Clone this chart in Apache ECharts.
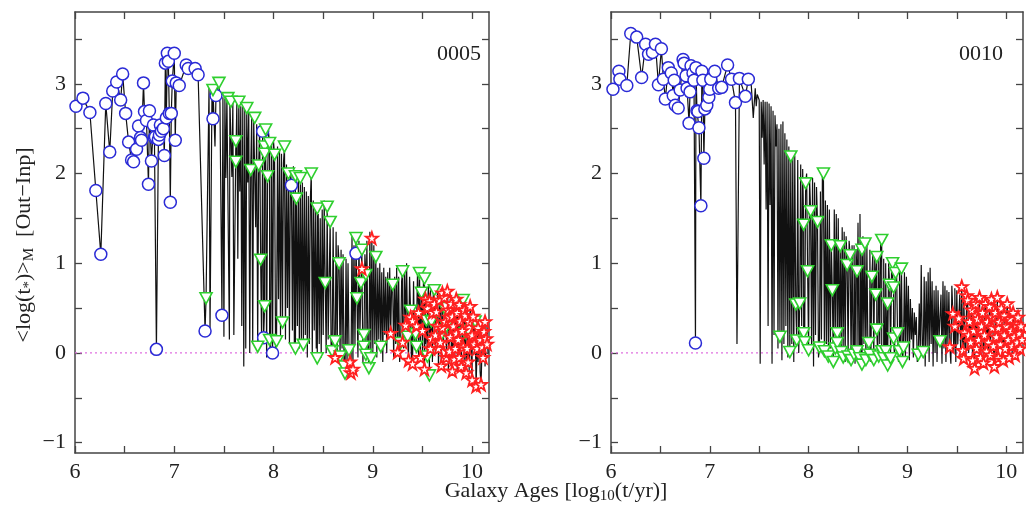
<!DOCTYPE html>
<html><head><meta charset="utf-8">
<script src="https://cdn.jsdelivr.net/npm/echarts@6/dist/echarts.min.js"></script>
<style>html,body{margin:0;padding:0;background:#fff}#c{width:1026px;height:507px}</style>
</head><body><div id="c"></div>
<script>
const panelNames = ['0005', '0010'];
const xTicks = [6, 6.5, 7, 7.5, 8, 8.5, 9, 9.5, 10];
const xTickLabels = [6, 7, 8, 9, 10];
const yTicks = [-1, -0.5, 0, 0.5, 1, 1.5, 2, 2.5, 3, 3.5];
const yTickLabels = [-1, 0, 1, 2, 3];
const xRange = [6, 10.17];
const yRange = [-1.115, 3.8];
const zeroLine = [[6, 0], [10.17, 0]];

// ---- panel 0005 ----
const leftBlue = [[6.01,2.75],[6.08,2.84],[6.15,2.68],[6.21,1.81],[6.26,1.10],[6.31,2.78],[6.35,2.24],[6.38,2.92],[6.42,3.02],[6.46,2.82],[6.48,3.11],[6.51,2.67],[6.54,2.35],[6.57,2.15],[6.59,2.13],[6.62,2.27],[6.64,2.53],[6.66,2.40],[6.67,2.37],[6.69,3.01],[6.70,2.69],[6.72,2.59],[6.74,1.88],[6.75,2.70],[6.77,2.14],[6.79,2.54],[6.80,2.40],[6.81,2.41],[6.82,0.04],[6.84,2.38],[6.85,2.43],[6.86,2.54],[6.87,2.47],[6.89,2.50],[6.90,2.20],[6.91,3.23],[6.92,2.62],[6.93,3.34],[6.94,3.25],[6.95,2.67],[6.96,1.68],[6.97,2.67],[6.98,3.03],[7.00,3.34],[7.01,2.37],[7.02,3.01],[7.05,2.98],[7.12,3.21],[7.14,3.17],[7.21,3.17],[7.24,3.10],[7.31,0.245],[7.39,2.61],[7.42,2.87],[7.48,0.42],[7.89,2.47],[7.90,0.17],[7.99,0.00],[8.18,1.87],[8.83,1.11]];
const leftGreen = [[7.32,0.61],[7.39,2.93],[7.45,3.01],[7.54,2.84],[7.57,2.80],[7.62,2.36],[7.62,2.13],[7.65,2.80],[7.73,2.73],[7.77,2.04],[7.81,2.62],[7.84,0.07],[7.85,2.09],[7.87,1.04],[7.91,0.52],[7.91,2.30],[7.91,2.22],[7.92,2.49],[7.94,1.97],[7.96,2.34],[7.96,0.145],[8.01,2.21],[8.03,0.13],[8.09,0.34],[8.11,2.30],[8.15,2.00],[8.22,1.97],[8.22,0.05],[8.23,1.72],[8.27,1.95],[8.30,0.09],[8.38,2.00],[8.44,1.61],[8.44,-0.06],[8.52,0.78],[8.54,1.63],[8.57,1.46],[8.59,0.02],[8.62,0.13],[8.66,1.00],[8.67,-0.04],[8.71,-0.15],[8.72,-0.23],[8.76,0.03],[8.83,1.28],[8.84,0.61],[8.88,0.78],[8.89,1.15],[8.91,0.20],[8.91,0.07],[8.93,0.87],[8.93,-0.02],[8.96,-0.17],[8.98,-0.06],[9.03,1.07],[9.08,0.07],[9.20,0.76],[9.28,0.11],[9.30,0.91],[9.35,0.18],[9.38,0.47],[9.43,0.21],[9.44,0.07],[9.47,0.89],[9.49,0.67],[9.52,0.83],[9.54,0.36],[9.55,-0.04],[9.57,-0.25],[9.59,0.35],[9.62,0.70],[9.67,0.16],[9.72,0.50],[9.74,0.29],[9.91,0.59],[9.93,0.22],[9.96,0.25],[10.03,0.35]];
const leftRed = [[8.62,-0.05],[8.77,-0.10],[8.78,-0.22],[8.80,-0.18],[8.89,0.94],[8.99,1.28],[9.18,0.22],[9.25,0.01],[9.30,0.12],[9.33,0.31],[9.36,-0.08],[9.38,0.40],[9.40,0.36],[9.40,-0.12],[9.44,0.30],[9.46,0.45],[9.48,-0.05],[9.50,0.25],[9.52,-0.18],[9.53,0.60],[9.55,0.50],[9.57,0.58],[9.58,0.05],[9.59,0.16],[9.60,0.45],[9.62,0.55],[9.63,0.20],[9.64,0.46],[9.65,0.30],[9.66,0.05],[9.67,0.59],[9.68,0.12],[9.69,-0.14],[9.70,0.67],[9.70,0.28],[9.72,0.62],[9.73,0.35],[9.74,-0.05],[9.75,0.69],[9.76,0.48],[9.77,0.02],[9.77,0.40],[9.78,0.18],[9.79,0.55],[9.80,0.41],[9.80,-0.20],[9.81,0.30],[9.82,-0.07],[9.83,0.05],[9.84,0.22],[9.84,0.60],[9.85,0.45],[9.86,0.15],[9.87,0.54],[9.87,-0.05],[9.88,0.36],[9.89,-0.15],[9.90,0.25],[9.91,0.07],[9.92,0.48],[9.93,0.42],[9.94,-0.22],[9.95,0.05],[9.96,-0.10],[9.97,0.35],[9.98,0.52],[9.99,0.18],[10.00,-0.30],[10.00,0.20],[10.01,0.41],[10.02,0.10],[10.04,-0.37],[10.05,0.05],[10.06,0.28],[10.08,0.15],[10.09,-0.35],[10.10,0.07],[10.11,-0.05],[10.12,0.24],[10.13,0.35],[10.14,0.16],[10.15,0.10]];
const leftLineOnly = [[7.35,2.96],[7.36,0.25],[7.38,2.94],[7.41,2.30],[7.46,2.78],[7.49,2.85],[7.50,0.18],[7.51,2.83],[7.52,1.95],[7.53,2.85],[7.555,0.15],[7.56,2.82],[7.58,1.96],[7.59,2.80],[7.60,0.20],[7.63,2.78],[7.64,1.05],[7.66,1.80],[7.67,2.75],[7.68,0.30],[7.69,2.74],[7.70,-0.15],[7.71,2.72],[7.72,0.05],[7.74,1.90],[7.75,2.68],[7.76,0.00],[7.78,2.64],[7.79,0.10],[7.80,2.60],[7.82,1.40],[7.83,2.55],[7.86,2.50],[7.88,0.10],[7.93,-0.05],[7.95,2.45],[7.97,-0.05],[7.98,2.38],[8.00,2.35],[8.02,0.05],[8.04,2.30],[8.05,0.60],[8.06,2.25],[8.07,0.20],[8.08,2.22],[8.10,2.12],[8.12,0.15],[8.13,2.10],[8.14,0.50],[8.16,0.10],[8.17,2.05],[8.19,0.25],[8.20,2.08],[8.21,0.00],[8.24,0.30],[8.25,1.95],[8.26,0.05],[8.28,0.15],[8.29,1.90],[8.31,1.85],[8.32,0.20],[8.33,1.80],[8.34,-0.05],[8.35,1.75],[8.36,0.10],[8.37,1.70],[8.39,0.00],[8.40,1.70],[8.41,0.25],[8.42,1.65],[8.43,0.05],[8.45,1.55],[8.46,0.10],[8.47,1.50],[8.48,-0.05],[8.49,1.60],[8.50,0.20],[8.51,1.70],[8.53,0.00],[8.55,0.15],[8.58,-0.02],[8.60,1.40],[8.61,0.10],[8.63,1.35],[8.64,-0.10],[8.65,1.20],[8.68,1.15],[8.69,0.05],[8.70,1.10],[8.73,1.05],[8.74,-0.10],[8.75,1.00],[8.79,1.30],[8.80,0.00],[8.81,1.20],[8.82,0.10],[8.85,-0.05],[8.86,1.25],[8.87,0.20],[8.90,-0.10],[8.92,1.10],[8.94,1.25],[8.95,0.05],[8.97,1.35],[9.00,0.00],[9.01,1.20],[9.02,0.10],[9.04,-0.05],[9.05,0.95],[9.06,0.15],[9.07,1.00],[9.09,0.90],[9.10,-0.10],[9.11,0.95],[9.12,0.20],[9.13,0.85],[9.14,0.00],[9.15,0.90],[9.16,0.15],[9.17,0.95],[9.19,0.80],[9.21,-0.05],[9.22,0.85],[9.23,0.10],[9.24,0.95],[9.26,0.85],[9.27,-0.10],[9.29,0.80],[9.31,0.05],[9.32,0.90],[9.34,1.00],[9.36,0.00],[9.37,0.85],[9.39,-0.15],[9.41,0.80],[9.42,0.05],[9.45,0.90],[9.46,-0.10],[9.48,0.10],[9.50,-0.05],[9.51,0.80],[9.53,0.10],[9.56,0.75],[9.58,0.70],[9.60,-0.10],[9.61,0.75],[9.63,0.00],[9.65,0.70],[9.66,-0.15],[9.68,0.60],[9.71,0.05],[9.73,0.65],[9.76,-0.20],[9.78,0.60],[9.79,-0.10],[9.81,0.55],[9.83,0.50],[9.85,-0.20],[9.86,0.55],[9.88,0.05],[9.90,0.50],[9.92,-0.10],[9.95,0.45],[9.97,-0.20],[9.99,0.00],[10.02,0.30],[10.05,0.25],[10.06,-0.10],[10.07,0.30],[10.08,-0.20],[10.11,0.30],[10.13,-0.15],[10.15,0.30],[10.16,0.00]];

// ---- panel 0010 ----
const rightBlue = [[6.02,2.94],[6.08,3.14],[6.09,3.05],[6.16,2.98],[6.20,3.56],[6.26,3.52],[6.31,3.07],[6.35,3.44],[6.38,3.33],[6.42,3.35],[6.45,3.44],[6.48,2.99],[6.51,3.39],[6.53,3.05],[6.55,2.83],[6.58,3.18],[6.61,3.12],[6.63,2.87],[6.64,3.04],[6.65,2.76],[6.68,2.73],[6.70,2.93],[6.73,3.27],[6.74,3.23],[6.76,3.09],[6.77,2.95],[6.79,2.56],[6.80,2.91],[6.81,3.20],[6.83,3.12],[6.84,3.04],[6.855,0.11],[6.86,3.18],[6.87,2.70],[6.88,2.69],[6.89,2.51],[6.91,1.64],[6.92,3.14],[6.93,3.04],[6.94,2.17],[6.95,2.72],[6.97,2.76],[6.99,2.85],[7.00,2.94],[7.01,3.05],[7.05,3.14],[7.09,2.95],[7.12,2.96],[7.18,3.21],[7.22,3.05],[7.26,2.79],[7.30,3.06],[7.36,2.86],[7.39,3.05]];
const rightGreen = [[7.71,0.18],[7.81,0.01],[7.82,2.19],[7.87,0.54],[7.88,0.14],[7.91,0.55],[7.95,1.43],[7.95,0.22],[7.96,0.12],[7.97,1.89],[7.99,0.91],[8.00,0.03],[8.02,1.58],[8.09,1.46],[8.11,0.06],[8.15,2.00],[8.16,0.02],[8.20,-0.04],[8.23,1.20],[8.24,0.70],[8.25,-0.10],[8.27,0.05],[8.29,0.22],[8.29,0.11],[8.32,1.19],[8.33,0.01],[8.35,-0.05],[8.39,0.98],[8.40,-0.04],[8.42,1.09],[8.43,-0.08],[8.46,-0.02],[8.49,0.91],[8.49,0.02],[8.52,-0.06],[8.54,1.15],[8.54,-0.13],[8.57,1.22],[8.58,-0.08],[8.61,0.11],[8.62,-0.02],[8.64,0.85],[8.66,-0.08],[8.68,0.65],[8.69,1.07],[8.69,0.26],[8.71,-0.04],[8.74,1.26],[8.74,0.02],[8.76,-0.06],[8.78,0.02],[8.80,0.55],[8.80,-0.14],[8.82,0.76],[8.83,-0.06],[8.85,1.00],[8.86,0.73],[8.86,0.16],[8.88,0.89],[8.90,0.22],[8.92,0.02],[8.94,0.94],[8.95,-0.10],[8.96,0.06],[9.11,-0.02],[9.16,0.01],[9.33,0.13]];
const rightRed = [[9.43,0.07],[9.46,0.44],[9.48,0.30],[9.52,0.39],[9.55,0.74],[9.56,0.03],[9.57,-0.06],[9.58,0.23],[9.60,0.64],[9.61,0.59],[9.62,0.20],[9.63,0.35],[9.64,0.12],[9.65,0.48],[9.66,-0.08],[9.67,0.25],[9.68,-0.17],[9.69,0.55],[9.70,0.05],[9.70,0.42],[9.71,0.38],[9.72,0.15],[9.73,0.62],[9.74,-0.05],[9.74,0.25],[9.75,0.30],[9.76,0.45],[9.77,-0.11],[9.78,0.20],[9.79,0.55],[9.80,0.02],[9.81,0.35],[9.82,0.12],[9.83,0.52],[9.84,-0.02],[9.85,0.60],[9.86,0.28],[9.86,0.40],[9.87,0.08],[9.88,-0.15],[9.89,0.45],[9.90,0.18],[9.91,0.62],[9.92,-0.05],[9.92,0.28],[9.93,0.35],[9.94,0.10],[9.95,0.50],[9.96,0.22],[9.97,-0.08],[9.98,0.42],[9.98,0.20],[9.99,0.05],[10.00,0.30],[10.01,0.55],[10.02,0.15],[10.03,-0.05],[10.04,0.38],[10.05,0.25],[10.06,0.08],[10.07,0.45],[10.08,0.18],[10.09,-0.02],[10.10,0.32],[10.11,0.12],[10.12,0.40],[10.13,0.22],[10.14,0.05],[10.15,0.30],[10.16,0.15]];
const rightLineOnly = [[7.275,0.10],[7.42,2.98],[7.44,2.62],[7.46,2.95],[7.47,2.75],[7.48,2.88],[7.50,2.82],[7.51,-0.12],[7.52,2.80],[7.53,2.40],[7.54,2.82],[7.55,2.10],[7.56,2.80],[7.57,1.60],[7.58,2.80],[7.59,0.30],[7.60,2.78],[7.61,1.65],[7.62,2.75],[7.63,-0.12],[7.64,2.70],[7.65,0.20],[7.66,2.65],[7.67,2.30],[7.68,2.55],[7.69,0.05],[7.70,2.50],[7.72,2.55],[7.73,-0.08],[7.74,2.58],[7.75,0.10],[7.76,2.45],[7.77,0.30],[7.78,2.38],[7.79,-0.05],[7.80,2.30],[7.83,0.10],[7.84,2.25],[7.85,-0.10],[7.86,2.20],[7.89,2.15],[7.90,0.00],[7.92,2.10],[7.93,0.30],[7.94,2.05],[7.98,2.00],[8.01,1.95],[8.03,0.10],[8.04,1.95],[8.05,-0.15],[8.06,1.90],[8.07,0.20],[8.08,1.85],[8.10,-0.05],[8.12,1.80],[8.13,0.15],[8.14,2.05],[8.17,1.70],[8.18,0.10],[8.19,1.65],[8.21,1.60],[8.22,0.05],[8.26,1.60],[8.27,0.20],[8.28,1.55],[8.30,1.50],[8.31,-0.05],[8.34,1.40],[8.35,0.10],[8.36,1.35],[8.37,-0.10],[8.38,1.30],[8.41,1.25],[8.44,1.20],[8.45,0.05],[8.46,1.20],[8.47,-0.12],[8.48,1.15],[8.50,1.45],[8.51,0.00],[8.52,1.55],[8.53,-0.05],[8.55,1.30],[8.56,0.10],[8.59,1.20],[8.60,0.05],[8.62,1.15],[8.63,-0.10],[8.65,1.10],[8.66,0.00],[8.67,1.10],[8.70,-0.05],[8.71,1.05],[8.72,0.10],[8.73,1.30],[8.75,-0.10],[8.76,1.05],[8.77,0.05],[8.78,1.00],[8.79,-0.12],[8.81,1.00],[8.83,0.00],[8.84,0.98],[8.87,-0.05],[8.89,0.95],[8.91,-0.10],[8.92,0.95],[8.93,0.05],[8.97,0.90],[8.98,-0.05],[8.99,0.85],[9.00,0.10],[9.01,0.75],[9.02,-0.08],[9.03,0.60],[9.04,0.15],[9.05,0.50],[9.06,-0.05],[9.07,0.45],[9.08,0.20],[9.09,0.40],[9.10,-0.10],[9.12,0.55],[9.13,0.00],[9.14,0.98],[9.15,0.10],[9.17,0.85],[9.18,-0.15],[9.19,0.80],[9.20,0.05],[9.21,0.90],[9.22,-0.10],[9.23,0.95],[9.24,0.10],[9.25,0.80],[9.26,-0.15],[9.27,0.70],[9.28,0.00],[9.29,0.75],[9.30,-0.10],[9.31,0.70],[9.32,0.15],[9.34,0.65],[9.35,-0.12],[9.36,0.80],[9.37,0.05],[9.38,0.75],[9.39,-0.10],[9.40,0.70],[9.41,0.10],[9.42,0.68],[9.44,-0.12],[9.45,0.75],[9.47,0.00],[9.48,0.72],[9.49,-0.10],[9.50,0.70],[9.51,0.10],[9.53,0.65],[9.54,-0.05],[9.56,0.15],[9.57,0.60],[9.59,-0.10],[9.61,0.55],[9.62,0.00],[9.63,0.50],[9.66,-0.10],[9.70,0.50],[9.74,-0.05],[9.78,0.45],[9.82,0.00],[9.86,0.50],[9.90,-0.05],[9.94,0.45],[9.98,0.05],[10.02,0.40],[10.06,0.00],[10.10,0.35],[10.14,0.05],[10.16,0.20]];

const panels = [
  {name: panelNames[0], blue: leftBlue, green: leftGreen, red: leftRed, lineOnly: leftLineOnly},
  {name: panelNames[1], blue: rightBlue, green: rightGreen, red: rightRed, lineOnly: rightLineOnly}
];

const FONT = "'Liberation Serif', 'Times New Roman', serif";
const TXT = '#222';
const AX = '#444';
const STAR = 'path://M50,0 L61.8,34.5 L97.6,34.5 L68.8,55.9 L79.4,90.5 L50,69.1 L20.6,90.5 L31.2,55.9 L2.4,34.5 L38.2,34.5 Z';
const grids = [
  {left: 75, top: 12, width: 414, height: 441, outerBoundsMode: 'none'},
  {left: 611, top: 12, width: 412, height: 441, outerBoundsMode: 'none'}
];
const fmt = v => (v < 0 ? '\u2212' + Math.abs(v) : String(v));

const xAxes = [], yAxes = [], series = [];
grids.forEach((g, i) => {
  const base = {
    type: 'value', gridIndex: i, min: xRange[0], max: xRange[1],
    axisLine: {show: true, onZero: false, lineStyle: {color: AX, width: 1.5}},
    axisTick: {show: true, inside: true, length: 7, customValues: xTicks, lineStyle: {color: AX, width: 1.3}},
    splitLine: {show: false}
  };
  xAxes.push(Object.assign({}, base, {position: 'bottom',
    axisLabel: {show: true, customValues: xTickLabels, margin: 8, fontSize: 22, fontFamily: FONT, color: TXT}}));
  xAxes.push(Object.assign({}, base, {position: 'top', axisLabel: {show: false}}));
  const ybase = {
    type: 'value', gridIndex: i, min: yRange[0], max: yRange[1],
    axisLine: {show: true, onZero: false, lineStyle: {color: AX, width: 1.5}},
    axisTick: {show: true, inside: true, length: 7, customValues: yTicks, lineStyle: {color: AX, width: 1.3}},
    splitLine: {show: false}
  };
  yAxes.push(Object.assign({}, ybase, {position: 'left',
    axisLabel: {show: true, customValues: yTickLabels, formatter: fmt, margin: 9, fontSize: 22, fontFamily: FONT, color: TXT}}));
  yAxes.push(Object.assign({}, ybase, {position: 'right', axisLabel: {show: false}}));

  const p = panels[i];
  const all = [].concat(p.blue, p.green, p.red, p.lineOnly).sort((a, b) => a[0] - b[0]);
  const xi = i * 2, yi = i * 2;
  series.push({type: 'line', xAxisIndex: xi, yAxisIndex: yi, data: zeroLine, symbol: 'none', silent: true,
    lineStyle: {color: '#e070e0', width: 1.2, type: [2, 3]}, z: 1});
  series.push({type: 'line', xAxisIndex: xi, yAxisIndex: yi, data: all, showSymbol: false, symbol: 'none',
    lineStyle: {color: '#111', width: 1.2}, z: 2});
  series.push({type: 'scatter', xAxisIndex: xi, yAxisIndex: yi, data: p.blue, symbol: 'circle', symbolSize: 12,
    itemStyle: {color: '#fff', borderColor: '#2a2ad6', borderWidth: 1.5, opacity: 1}, z: 3});
  series.push({type: 'scatter', xAxisIndex: xi, yAxisIndex: yi, data: p.green, symbol: 'triangle', symbolRotate: 180, symbolSize: [12, 11],
    itemStyle: {color: '#fff', borderColor: '#2fcf2f', borderWidth: 1.6, opacity: 1}, z: 4});
  series.push({type: 'scatter', xAxisIndex: xi, yAxisIndex: yi, data: p.red, symbol: STAR, symbolSize: 12,
    itemStyle: {color: '#fff', borderColor: '#ff2020', borderWidth: 1.8, opacity: 1}, z: 5});
});

const chart = echarts.init(document.getElementById('c'), null, {renderer: 'canvas'});
chart.setOption({
  animation: false,
  backgroundColor: '#fff',
  grid: grids,
  xAxis: xAxes,
  yAxis: yAxes,
  series: series,
  graphic: [
    {type: 'text', x: 459, y: 54, style: {text: panels[0].name, font: '22px ' + FONT, fill: TXT, align: 'center', verticalAlign: 'middle'}},
    {type: 'text', x: 981, y: 54, style: {text: panels[1].name, font: '22px ' + FONT, fill: TXT, align: 'center', verticalAlign: 'middle'}},
    {type: 'text', x: 556, y: 491, style: {
      text: '{n|Galaxy Ages [log}{s|10}{n|(t/yr)]}', align: 'center', verticalAlign: 'middle',
      rich: {n: {fontSize: 22, fontFamily: FONT, fill: TXT, lineHeight: 26}, s: {fontSize: 15, fontFamily: FONT, fill: TXT, lineHeight: 14, verticalAlign: 'bottom'}}}},
    {type: 'text', x: 24, y: 245, rotation: Math.PI / 2, style: {
      text: '{n|<log(t}{s|*}{n|)>}{s|M}{n|  [Out\u2212Inp]}', align: 'center', verticalAlign: 'middle',
      rich: {n: {fontSize: 22, fontFamily: FONT, fill: TXT, lineHeight: 26}, s: {fontSize: 15, fontFamily: FONT, fill: TXT, lineHeight: 14, verticalAlign: 'bottom'}}}}
  ]
});
</script>
</body></html>
